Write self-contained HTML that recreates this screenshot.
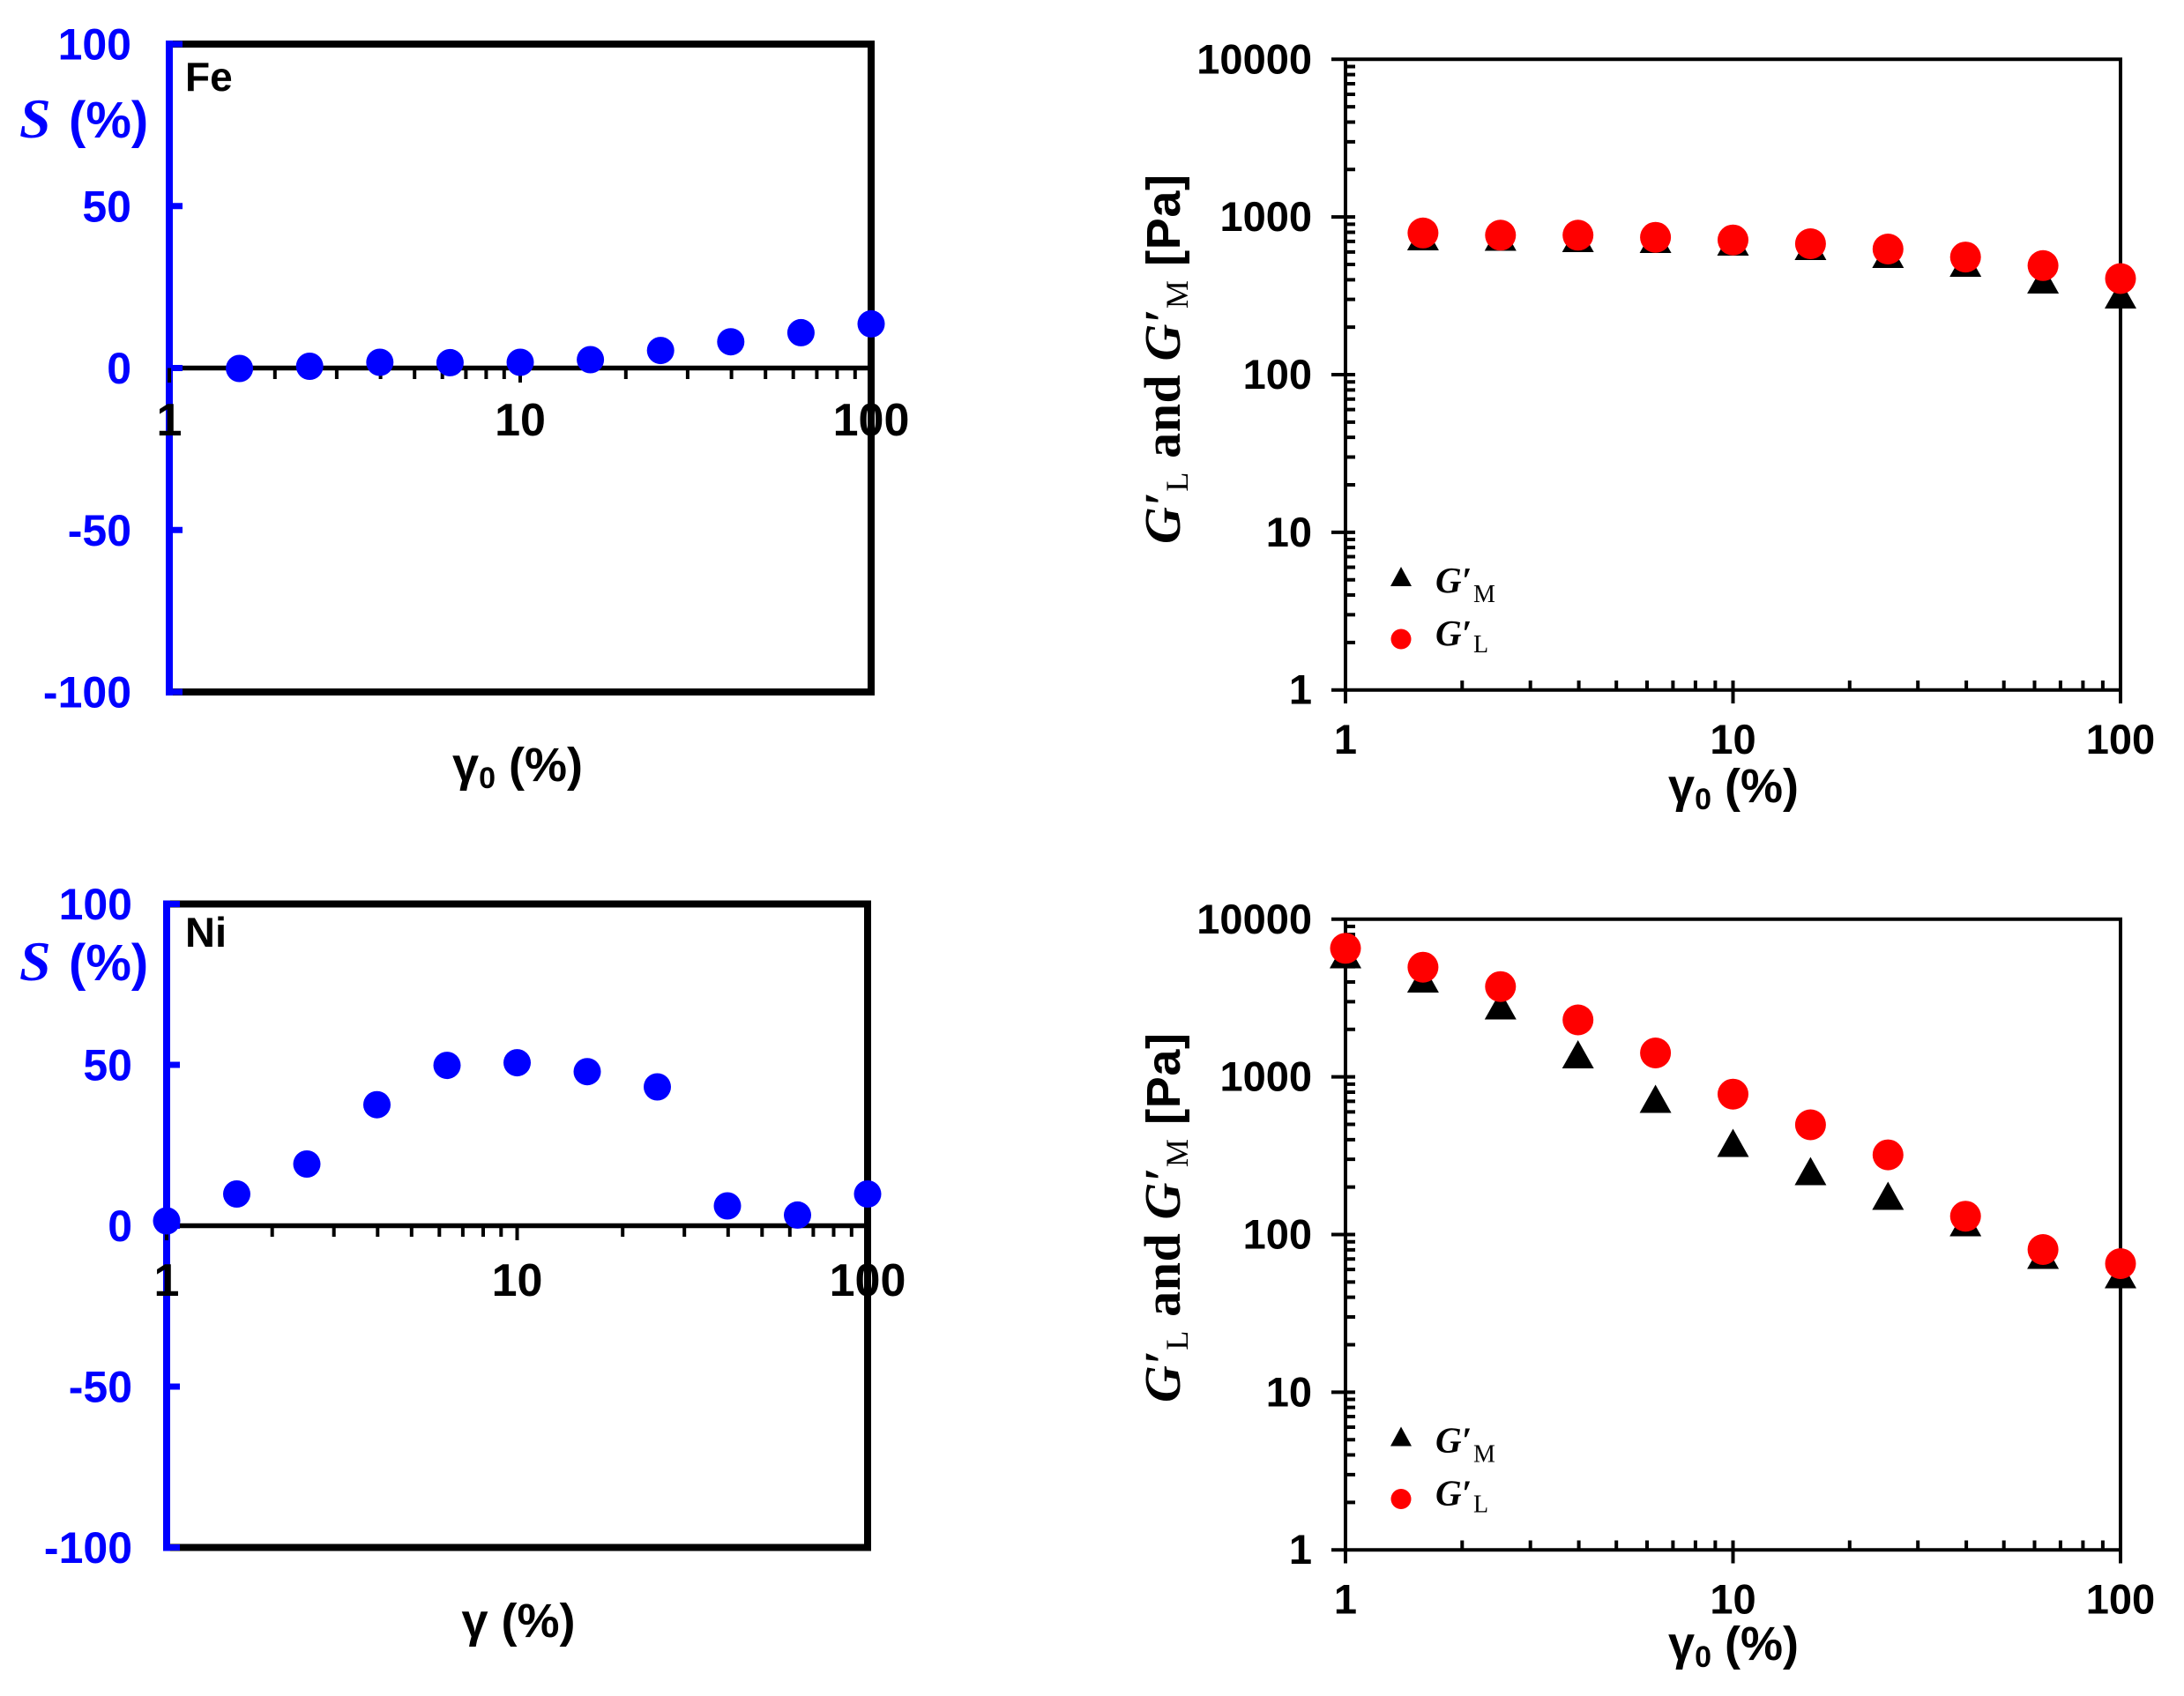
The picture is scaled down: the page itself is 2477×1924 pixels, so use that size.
<!DOCTYPE html>
<html><head><meta charset="utf-8"><style>
html,body{margin:0;padding:0;background:#fff;}
svg{display:block;}
.t{font-family:"Liberation Sans",Arial,sans-serif;font-weight:bold;}
.s{font-family:"Liberation Serif","DejaVu Serif",serif;}
</style></head><body>
<svg width="2477" height="1924" viewBox="0 0 2477 1924" xmlns="http://www.w3.org/2000/svg">
<rect width="2477" height="1924" fill="#fff"/>

<!-- ================= TOP-LEFT (Fe) ================= -->
<g fill="none" stroke="#000">
<rect x="192" y="50" width="796" height="735" stroke-width="8"/>
<line x1="192" y1="417.5" x2="988" y2="417.5" stroke-width="5.5"/>
<path stroke-width="4" d="M311.8 417.5V430M381.9 417.5V430M431.6 417.5V430M470.2 417.5V430M501.7 417.5V430M528.4 417.5V430M551.4 417.5V430M571.8 417.5V430M709.8 417.5V430M779.9 417.5V430M829.6 417.5V430M868.2 417.5V430M899.7 417.5V430M926.4 417.5V430M949.4 417.5V430M969.8 417.5V430M590 417.5V434"/>
</g>
<line x1="192" y1="46" x2="192" y2="789" stroke="#0000ff" stroke-width="8"/>
<path stroke="#0000ff" stroke-width="7" d="M192 50H207M192 233.75H207M192 417.5H207M192 601.25H207M192 785H207"/>
<line x1="192" y1="417.5" x2="192" y2="434" stroke="#000" stroke-width="4"/>
<g fill="#0000ff">
<circle cx="271.6" cy="418" r="15.5"/><circle cx="351.2" cy="415.5" r="15.5"/><circle cx="430.8" cy="411" r="15.5"/><circle cx="510.4" cy="411.4" r="15.5"/><circle cx="590" cy="411" r="15.5"/><circle cx="669.6" cy="408" r="15.5"/><circle cx="749.2" cy="397.6" r="15.5"/><circle cx="828.8" cy="387.7" r="15.5"/><circle cx="908.4" cy="377.4" r="15.5"/><circle cx="988" cy="367.4" r="15.5"/>
</g>
<g class="t" fill="#0000ff" font-size="50" text-anchor="end">
<text x="149" y="67.5">100</text><text x="149" y="251.25">50</text><text x="149" y="435">0</text><text x="149" y="618.75">-50</text><text x="149" y="802.5">-100</text>
</g>
<g class="t" fill="#000" font-size="52" text-anchor="middle">
<text x="192" y="494">1</text><text x="590" y="494">10</text><text x="988" y="494">100</text>
</g>
<text class="t" x="210" y="103" font-size="46" fill="#000">Fe</text>
<text class="s" x="22" y="156" font-size="64" font-weight="bold" font-style="italic" fill="#0000ff">S</text>
<text class="t" x="78" y="156" font-size="58" fill="#0000ff">(%)</text>
<text class="t" x="587" y="886" font-size="54" text-anchor="middle" fill="#000">γ<tspan font-size="34" dy="8">0</tspan><tspan dy="-8"> (%)</tspan></text>

<!-- ================= BOTTOM-LEFT (Ni) ================= -->
<g fill="none" stroke="#000">
<rect x="189" y="1025.5" width="795" height="730" stroke-width="8"/>
<line x1="189" y1="1390.5" x2="984" y2="1390.5" stroke-width="5.5"/>
<path stroke-width="4" d="M308.7 1390.5V1403M378.7 1390.5V1403M428.3 1390.5V1403M466.8 1390.5V1403M498.3 1390.5V1403M524.9 1390.5V1403M548 1390.5V1403M568.3 1390.5V1403M706.2 1390.5V1403M776.2 1390.5V1403M825.8 1390.5V1403M864.3 1390.5V1403M895.8 1390.5V1403M922.4 1390.5V1403M945.5 1390.5V1403M965.8 1390.5V1403M586.5 1390.5V1407M984 1390.5V1407"/>
</g>
<line x1="189" y1="1021.5" x2="189" y2="1759.5" stroke="#0000ff" stroke-width="8"/>
<path stroke="#0000ff" stroke-width="7" d="M189 1025.5H204M189 1208H204M189 1390.5H204M189 1573H204M189 1755.5H204"/>
<line x1="189" y1="1390.5" x2="189" y2="1407" stroke="#000" stroke-width="4"/>
<g fill="#0000ff">
<circle cx="189" cy="1385" r="15.5"/><circle cx="268.5" cy="1354.5" r="15.5"/><circle cx="348" cy="1320.5" r="15.5"/><circle cx="427.5" cy="1253.2" r="15.5"/><circle cx="507" cy="1208.6" r="15.5"/><circle cx="586.5" cy="1205.6" r="15.5"/><circle cx="666" cy="1215.7" r="15.5"/><circle cx="745.5" cy="1233" r="15.5"/><circle cx="825" cy="1368" r="15.5"/><circle cx="904.5" cy="1378.4" r="15.5"/><circle cx="984" cy="1354.5" r="15.5"/>
</g>
<g class="t" fill="#0000ff" font-size="50" text-anchor="end">
<text x="150" y="1043">100</text><text x="150" y="1225.5">50</text><text x="150" y="1408">0</text><text x="150" y="1590.5">-50</text><text x="150" y="1773">-100</text>
</g>
<g class="t" fill="#000" font-size="52" text-anchor="middle">
<text x="189" y="1470">1</text><text x="586.5" y="1470">10</text><text x="984" y="1470">100</text>
</g>
<text class="t" x="210" y="1074" font-size="47" fill="#000">Ni</text>
<text class="s" x="22" y="1112" font-size="64" font-weight="bold" font-style="italic" fill="#0000ff">S</text>
<text class="t" x="78" y="1112" font-size="58" fill="#0000ff">(%)</text>
<text class="t" x="588" y="1857" font-size="54" text-anchor="middle" fill="#000">γ (%)</text>

<!-- ================= TOP-RIGHT ================= -->
<g fill="none" stroke="#000" stroke-width="4">
<path d="M1510 67.3H2407M2405 65.3V784.7M1510 782.7H2407M1526 65.3V798"/>
<path d="M1510 603.85H1537M1510 425H1537M1510 246.15H1537"/>
<path d="M1526 728.86H1537M1526 697.37H1537M1526 675.02H1537M1526 657.69H1537M1526 643.53H1537M1526 631.55H1537M1526 621.18H1537M1526 612.04H1537M1526 550.01H1537M1526 518.52H1537M1526 496.17H1537M1526 478.84H1537M1526 464.68H1537M1526 452.7H1537M1526 442.33H1537M1526 433.19H1537M1526 371.16H1537M1526 339.67H1537M1526 317.32H1537M1526 299.99H1537M1526 285.83H1537M1526 273.85H1537M1526 263.48H1537M1526 254.34H1537M1526 192.31H1537M1526 160.82H1537M1526 138.47H1537M1526 121.14H1537M1526 106.98H1537M1526 95H1537M1526 84.63H1537M1526 75.49H1537"/>
<path d="M1965.5 772V798M2405 782.7V798M1658.3 782.7V772M1735.7 782.7V772M1790.6 782.7V772M1833.2 782.7V772M1868 782.7V772M1897.4 782.7V772M1922.9 782.7V772M1945.4 782.7V772M2097.8 782.7V772M2175.2 782.7V772M2230.1 782.7V772M2272.7 782.7V772M2307.5 782.7V772M2336.9 782.7V772M2362.4 782.7V772M2384.9 782.7V772"/>
</g>
<g fill="#000">
<polygon points="1613.9,252 1595.9,284 1631.9,284"/>
<polygon points="1701.8,252.5 1683.8,284.5 1719.8,284.5"/>
<polygon points="1789.7,254 1771.7,286 1807.7,286"/>
<polygon points="1877.6,255 1859.6,287 1895.6,287"/>
<polygon points="1965.5,258 1947.5,290 1983.5,290"/>
<polygon points="2053.4,263 2035.4,295 2071.4,295"/>
<polygon points="2141.3,272 2123.3,304 2159.3,304"/>
<polygon points="2229.2,282 2211.2,314 2247.2,314"/>
<polygon points="2317.1,301 2299.1,333 2335.1,333"/>
<polygon points="2405,318 2387,350 2423,350"/>
</g>
<g fill="#ff0000">
<circle cx="1613.9" cy="264.3" r="17.5"/><circle cx="1701.8" cy="266.8" r="17.5"/><circle cx="1789.7" cy="266.8" r="17.5"/><circle cx="1877.6" cy="269.2" r="17.5"/><circle cx="1965.5" cy="272.2" r="17.5"/><circle cx="2053.4" cy="276.5" r="17.5"/><circle cx="2141.3" cy="282.5" r="17.5"/><circle cx="2229.2" cy="291.6" r="17.5"/><circle cx="2317.1" cy="301.3" r="17.5"/><circle cx="2405" cy="316" r="17.5"/>
</g>
<g class="t" fill="#000" font-size="47" text-anchor="end">
<text x="1488" y="83.3">10000</text><text x="1488" y="262.2">1000</text><text x="1488" y="441">100</text><text x="1488" y="619.9">10</text><text x="1488" y="798.7">1</text>
</g>
<g class="t" fill="#000" font-size="47" text-anchor="middle">
<text x="1526" y="855">1</text><text x="1965.5" y="855">10</text><text x="2405" y="855">100</text>
</g>
<text class="t" x="1966" y="910" font-size="54" text-anchor="middle" fill="#000">γ<tspan font-size="34" dy="8">0</tspan><tspan dy="-8"> (%)</tspan></text>
<text class="s" transform="translate(1338,407.5) rotate(-90)" font-size="58" font-weight="bold" text-anchor="middle" fill="#000" textLength="419" lengthAdjust="spacing"><tspan font-style="italic">G′</tspan><tspan font-size="36" font-weight="normal" dy="9">L</tspan><tspan dy="-9"> and </tspan><tspan font-style="italic">G′</tspan><tspan font-size="36" font-weight="normal" dy="9">M</tspan><tspan dy="-9" font-family="Liberation Sans, Arial, sans-serif" font-size="54"> [Pa]</tspan></text>
<polygon points="1589,643 1577,665 1601,665" fill="#000"/>
<circle cx="1589" cy="725" r="11.5" fill="#ff0000"/>
<text class="s" x="1628" y="672" font-size="41" font-weight="bold" font-style="italic" fill="#000">G′</text>
<text class="s" x="1671" y="683" font-size="28" fill="#000">M</text>
<text class="s" x="1628" y="732" font-size="41" font-weight="bold" font-style="italic" fill="#000">G′</text>
<text class="s" x="1671" y="740" font-size="28" fill="#000">L</text>

<!-- ================= BOTTOM-RIGHT ================= -->
<g transform="translate(0,975.5)">
<g fill="none" stroke="#000" stroke-width="4">
<path d="M1510 67.3H2407M2405 65.3V784.7M1510 782.7H2407M1526 65.3V798"/>
<path d="M1510 603.85H1537M1510 425H1537M1510 246.15H1537"/>
<path d="M1526 728.86H1537M1526 697.37H1537M1526 675.02H1537M1526 657.69H1537M1526 643.53H1537M1526 631.55H1537M1526 621.18H1537M1526 612.04H1537M1526 550.01H1537M1526 518.52H1537M1526 496.17H1537M1526 478.84H1537M1526 464.68H1537M1526 452.7H1537M1526 442.33H1537M1526 433.19H1537M1526 371.16H1537M1526 339.67H1537M1526 317.32H1537M1526 299.99H1537M1526 285.83H1537M1526 273.85H1537M1526 263.48H1537M1526 254.34H1537M1526 192.31H1537M1526 160.82H1537M1526 138.47H1537M1526 121.14H1537M1526 106.98H1537M1526 95H1537M1526 84.63H1537M1526 75.49H1537"/>
<path d="M1965.5 772V798M2405 782.7V798M1658.3 782.7V772M1735.7 782.7V772M1790.6 782.7V772M1833.2 782.7V772M1868 782.7V772M1897.4 782.7V772M1922.9 782.7V772M1945.4 782.7V772M2097.8 782.7V772M2175.2 782.7V772M2230.1 782.7V772M2272.7 782.7V772M2307.5 782.7V772M2336.9 782.7V772M2362.4 782.7V772M2384.9 782.7V772"/>
</g>
<g fill="#000">
<polygon points="1526,91 1508,123 1544,123"/>
<polygon points="1613.9,118.5 1595.9,150.5 1631.9,150.5"/>
<polygon points="1701.8,149 1683.8,181 1719.8,181"/>
<polygon points="1789.7,204.5 1771.7,236.5 1807.7,236.5"/>
<polygon points="1877.6,255 1859.6,287 1895.6,287"/>
<polygon points="1965.5,305 1947.5,337 1983.5,337"/>
<polygon points="2053.4,337 2035.4,369 2071.4,369"/>
<polygon points="2141.3,365 2123.3,397 2159.3,397"/>
<polygon points="2229.2,395 2211.2,427 2247.2,427"/>
<polygon points="2317.1,432 2299.1,464 2335.1,464"/>
<polygon points="2405,454 2387,486 2423,486"/>
</g>
<g fill="#ff0000">
<circle cx="1526" cy="100.3" r="17.5"/><circle cx="1613.9" cy="121.7" r="17.5"/><circle cx="1701.8" cy="143.7" r="17.5"/><circle cx="1789.7" cy="181.5" r="17.5"/><circle cx="1877.6" cy="219" r="17.5"/><circle cx="1965.5" cy="265.7" r="17.5"/><circle cx="2053.4" cy="300.5" r="17.5"/><circle cx="2141.3" cy="334.6" r="17.5"/><circle cx="2229.2" cy="404.2" r="17.5"/><circle cx="2317.1" cy="442" r="17.5"/><circle cx="2405" cy="458" r="17.5"/>
</g>
<g class="t" fill="#000" font-size="47" text-anchor="end">
<text x="1488" y="83.3">10000</text><text x="1488" y="262.2">1000</text><text x="1488" y="441">100</text><text x="1488" y="619.9">10</text><text x="1488" y="798.7">1</text>
</g>
<g class="t" fill="#000" font-size="47" text-anchor="middle">
<text x="1526" y="855">1</text><text x="1965.5" y="855">10</text><text x="2405" y="855">100</text>
</g>
<text class="t" x="1966" y="907.5" font-size="54" text-anchor="middle" fill="#000">γ<tspan font-size="34" dy="8">0</tspan><tspan dy="-8"> (%)</tspan></text>
<text class="s" transform="translate(1338,406) rotate(-90)" font-size="58" font-weight="bold" text-anchor="middle" fill="#000" textLength="419" lengthAdjust="spacing"><tspan font-style="italic">G′</tspan><tspan font-size="36" font-weight="normal" dy="9">L</tspan><tspan dy="-9"> and </tspan><tspan font-style="italic">G′</tspan><tspan font-size="36" font-weight="normal" dy="9">M</tspan><tspan dy="-9" font-family="Liberation Sans, Arial, sans-serif" font-size="54"> [Pa]</tspan></text>
<polygon points="1589,643 1577,665 1601,665" fill="#000"/>
<circle cx="1589" cy="725" r="11.5" fill="#ff0000"/>
<text class="s" x="1628" y="672" font-size="41" font-weight="bold" font-style="italic" fill="#000">G′</text>
<text class="s" x="1671" y="683" font-size="28" fill="#000">M</text>
<text class="s" x="1628" y="732" font-size="41" font-weight="bold" font-style="italic" fill="#000">G′</text>
<text class="s" x="1671" y="740" font-size="28" fill="#000">L</text>
</g>
</svg>
</body></html>
